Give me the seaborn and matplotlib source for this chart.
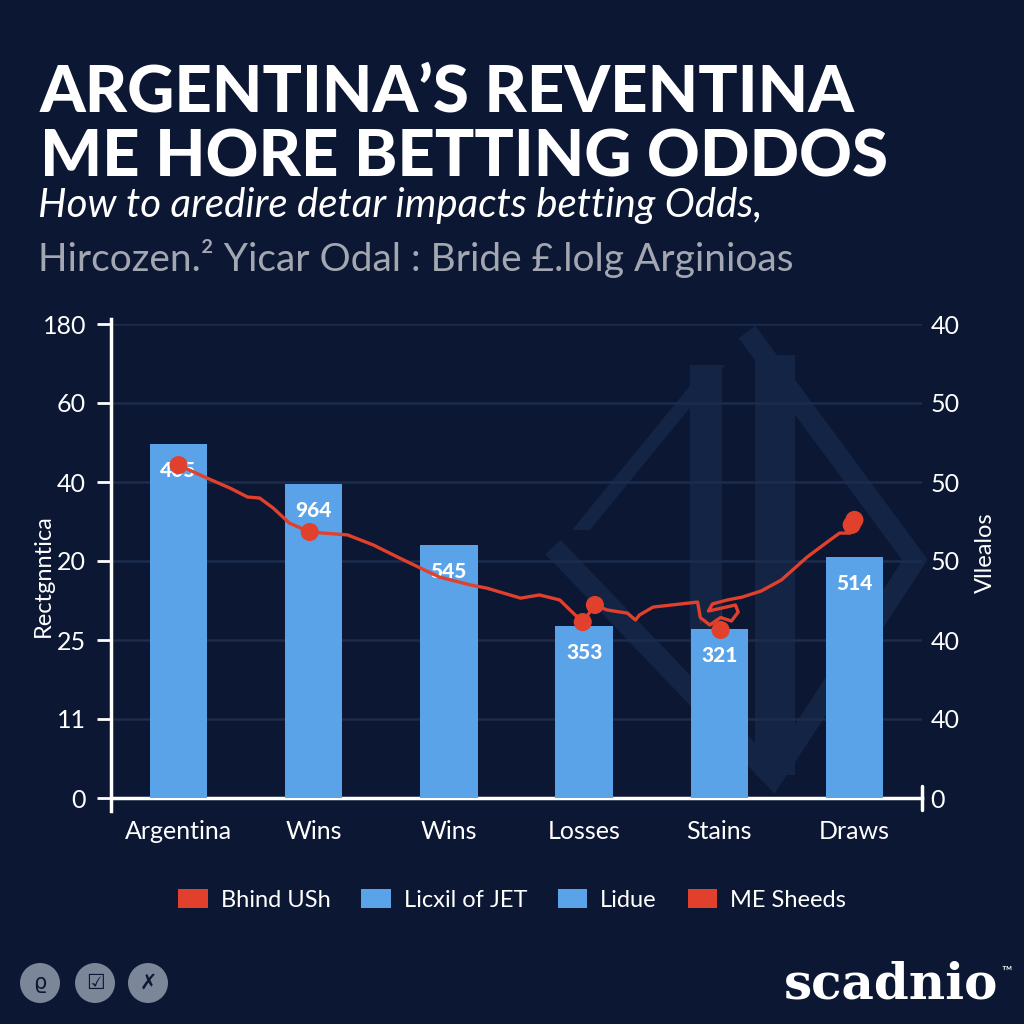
import numpy as np
import pandas as pd
import matplotlib
matplotlib.use("Agg")
import matplotlib.pyplot as plt
from matplotlib.patches import Polygon, Rectangle, Circle, Patch
import seaborn as sns

# -- data --
categories = ["Argentina", "Wins", "Wins", "Losses", "Stains", "Draws"]
bar_values = [134.4, 119.2, 96.1, 65.3, 64.2, 91.5]
bar_labels = ["405", "964", "545", "353", "321", "514"]

line_x = [0.0, 0.21, 0.38, 0.51, 0.60, 0.70, 0.82, 0.97, 1.25, 1.44, 1.62, 1.79,
          1.93, 2.16, 2.28, 2.53, 2.67, 2.82, 2.92, 2.99, 3.08, 3.17, 3.32, 3.38,
          3.41, 3.51, 3.84, 3.86, 3.86, 3.93, 4.01, 4.09, 4.14, 4.12, 4.01, 3.92,
          3.95, 4.06, 4.17, 4.31, 4.46, 4.65, 4.82, 4.89, 4.97, 4.99, 5.00]
line_y = [126.4, 121.5, 117.7, 114.3, 113.9, 110.1, 104.4, 101.0, 99.9, 96.1, 91.5, 87.3,
          83.9, 80.9, 79.7, 75.9, 77.1, 75.2, 70.2, 66.8, 73.3, 71.4, 70.2, 67.6,
          69.5, 72.5, 74.4, 70.6, 66.4, 65.7, 63.8, 67.2, 70.6, 73.3, 73.3, 71.0,
          73.7, 75.2, 76.3, 78.6, 82.8, 91.5, 98.0, 100.6, 100.6, 102.9, 105.6]
dot_x = [0.0, 0.97, 2.99, 3.08, 4.01, 4.98, 5.00]
dot_y = [126.4, 101.0, 66.8, 73.3, 63.8, 103.7, 105.6]

yticks = [0, 30, 60, 90, 120, 150, 180]
left_labels = ["0", "11", "25", "20", "40", "60", "180"]
right_labels = ["0", "40", "40", "50", "50", "50", "40"]

legend_names = ["Bhind USh", "Licxil of JET", "Lidue", "ME Sheeds"]

bg = "#0b1733"
blue = "#5aa3e8"
red = "#e0402c"
grid_c = "#1d2c4c"
wm = "#142445"

sns.set_style("dark")
plt.rcParams["font.family"] = ["Lato", "DejaVu Sans"]

fig = plt.figure(figsize=(10.24, 10.24), dpi=100, facecolor=bg)

# faint watermark logo behind the chart
def px(x, y):
    return (x / 1024, 1 - y / 1024)

fig.patches.append(Polygon([px(553, 547), px(773, 777), px(915, 560), px(747, 332)],
                           closed=False, fill=False, ec=wm, lw=15, transform=fig.transFigure,
                           zorder=-2, joinstyle="miter"))
fig.patches.append(Polygon([px(572, 530), px(590, 530), px(725, 365), px(707, 365)],
                           closed=True, fc=wm, ec="none", transform=fig.transFigure, zorder=-2))
fig.patches.append(Rectangle(px(690, 690), 32 / 1024, 325 / 1024, fc=wm, ec="none",
                             transform=fig.transFigure, zorder=-2))
fig.patches.append(Rectangle(px(755, 775), 40 / 1024, 420 / 1024, fc=wm, ec="none",
                             transform=fig.transFigure, zorder=-2))

ax = fig.add_axes([111 / 1024, 1 - 798 / 1024, (922 - 111) / 1024, (798 - 324) / 1024])
ax.set_facecolor("none")

df = pd.DataFrame({"pos": list(range(len(categories))), "value": bar_values})
sns.barplot(data=df, x="pos", y="value", color=blue, saturation=1, width=0.425, ax=ax,
            zorder=3, linewidth=0, edgecolor="none")
for i, (v, lab) in enumerate(zip(bar_values, bar_labels)):
    ax.text(i, v - 10, lab, ha="center", va="center", color="white", fontsize=15,
            fontweight="black", zorder=4)

sns.lineplot(x=line_x, y=line_y, sort=False, color=red, lw=2.4, ax=ax, zorder=5)
ax.scatter(dot_x, dot_y, s=170, color=red, zorder=6, edgecolors="none")

ax.set_xlim(-0.5, 5.5)
ax.set_ylim(0, 180)
ax.set_yticks(yticks)
ax.set_yticklabels(left_labels)
ax.set_xticks(range(len(categories)))
ax.set_xticklabels(categories)
ax.grid(axis="y", color=grid_c, lw=1.8, zorder=0)
ax.grid(axis="x", visible=False)
ax.set_axisbelow(True)
ax.set_xlabel("")
ax.set_ylabel("Rectgnntica", color="white", fontsize=17)
ax.yaxis.set_label_coords(-0.07, 0.47)
ax.tick_params(axis="y", colors="white", labelsize=18, length=10, width=2, pad=8, left=True)
ax.tick_params(axis="x", colors="white", labelsize=18, length=0, pad=16)
for s in ["top", "right"]:
    ax.spines[s].set_visible(False)
for s in ["left", "bottom"]:
    ax.spines[s].set_visible(True)
    ax.spines[s].set_color("white")
    ax.spines[s].set_linewidth(2.5)
ax.spines["left"].set_bounds(-5, 182)
ax.plot([1, 1], [-0.025, 0.025], transform=ax.transAxes, color="white", lw=2.5, clip_on=False)

ax2 = ax.twinx()
ax2.set_ylim(0, 180)
ax2.set_yticks(yticks)
ax2.set_yticklabels(right_labels)
ax2.tick_params(axis="y", colors="white", labelsize=18, length=0, pad=6)
ax2.grid(False)
for s in ax2.spines.values():
    s.set_visible(False)
ax2.set_ylabel("Vllealos", color="white", fontsize=17)
ax2.yaxis.set_label_coords(1.065, 0.517)

# titles
fig.text(40 / 1024, 1 - 93 / 1024, "ARGENTINA’S REVENTINA", color="white", fontsize=47,
         fontweight="black", va="center", ha="left")
fig.text(40 / 1024, 1 - 158 / 1024, "ME HORE BETTING ODDOS", color="white", fontsize=47,
         fontweight="black", va="center", ha="left")
fig.text(38 / 1024, 1 - 205 / 1024, "How to aredire detar impacts betting Odds,", color="white",
         fontsize=29, fontstyle="italic", va="center", ha="left")
fig.text(38 / 1024, 1 - 258 / 1024, "Hircozen.² Yicar Odal : Bride £.lolg Arginioas", color="#a3a7b1",
         fontsize=28, va="center", ha="left")

# legend
handles = [Patch(fc=red, ec="none"), Patch(fc=blue, ec="none"),
           Patch(fc=blue, ec="none"), Patch(fc=red, ec="none")]
fig.legend(handles, legend_names, loc="center", bbox_to_anchor=(512 / 1024, 1 - 900 / 1024), ncol=4,
           frameon=False, fontsize=17, labelcolor="white", handlelength=1.25, handleheight=0.85,
           columnspacing=1.3, handletextpad=0.55)

# footer icons and brand
for cx in [40, 95, 148]:
    fig.patches.append(Circle(px(cx, 983), 20 / 1024, fc="#7c8699", ec="none",
                              transform=fig.transFigure))
for cx, g in zip([40, 95, 148], ["ϱ", "☑", "✗"]):
    fig.text(cx / 1024, 1 - 983 / 1024, g, color=bg, fontsize=15, ha="center", va="center",
             family="DejaVu Sans")
fig.text(998 / 1024, 1 - 985 / 1024, "scadnio", color="white", fontsize=36, fontweight="bold",
         family="DejaVu Serif", ha="right", va="center")
fig.text(1012 / 1024, 1 - 972 / 1024, "™", color="white", fontsize=10, ha="right", va="center")

fig.savefig("out.png", dpi=100, facecolor=bg)
